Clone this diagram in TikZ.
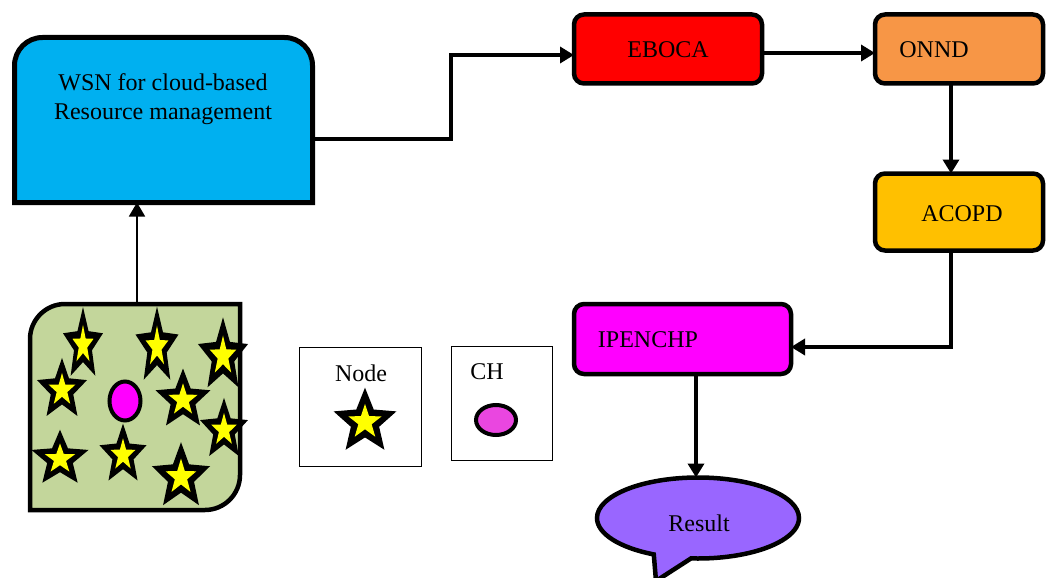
\documentclass[tikz,border=0pt]{standalone}
\usepackage{fontspec}
\setmainfont{Liberation Serif}
\usetikzlibrary{arrows.meta,calc,shapes.callouts,shapes.geometric}
\definecolor{wsnblue}{HTML}{00B0F0}
\definecolor{ebred}{HTML}{FF0000}
\definecolor{onorange}{HTML}{F79646}
\definecolor{acgold}{HTML}{FFC000}
\definecolor{ipmag}{HTML}{FF00FF}
\definecolor{respurple}{HTML}{9966FF}
\definecolor{fieldgreen}{HTML}{C3D69B}
\definecolor{staryellow}{HTML}{FFFF00}
\definecolor{legpink}{HTML}{EA46E0}
\tikzset{
  boxstyle/.style={draw=black, line width=4.5pt, rounded corners=10pt, inner sep=0pt, outer sep=0pt},
  legbox/.style={draw=black, line width=1pt, inner sep=0pt, outer sep=0pt},
  lbl/.style={inner sep=0pt, font=\fontsize{24}{28.5}\selectfont},
  arr/.style={line width=4.5pt, -{Triangle[length=14pt,width=16pt]}},
  thinarr/.style={line width=1.8pt, -{Triangle[length=14pt,width=16pt]}},
  starpic/.pic={
    \fill[black] (-90:1) -- (-54:0.45) -- (-18:1) -- (18:0.45) -- (54:1) -- (90:0.45) -- (126:1) -- (162:0.45) -- (198:1) -- (234:0.45) -- cycle;
    \fill[staryellow, scale=0.53] (-90:1) -- (-54:0.4) -- (-18:1) -- (18:0.4) -- (54:1) -- (90:0.4) -- (126:1) -- (162:0.4) -- (198:1) -- (234:0.4) -- cycle;
  }
}
\begin{document}
\begin{tikzpicture}[x=1pt,y=-1pt]
\useasboundingbox (0,0) rectangle (1047,578);

% WSN box (top corners rounded)
\node[minimum width=298pt, minimum height=165pt, inner sep=0pt, outer sep=0pt] (WSN) at (163.5,120) {};
\draw[line width=5pt, fill=wsnblue]
  (WSN.south west) -- ($(WSN.north west)+(0,28)$)
  .. controls ($(WSN.north west)+(0,12.5)$) and ($(WSN.north west)+(12.5,0)$) .. ($(WSN.north west)+(28,0)$)
  -- ($(WSN.north east)+(-28,0)$)
  .. controls ($(WSN.north east)+(-12.5,0)$) and ($(WSN.north east)+(0,12.5)$) .. ($(WSN.north east)+(0,28)$)
  -- (WSN.south east) -- cycle;
\node[lbl, align=center] (wsntext) at (163,99) {WSN for cloud-based\\Resource management};

% process boxes
\node[boxstyle, fill=ebred, minimum width=188pt, minimum height=69pt] (EBOCA) at (668,49) {};
\node[lbl] (ebocatext) at (668,50) {EBOCA};
\node[boxstyle, fill=onorange, minimum width=168pt, minimum height=69pt] (ONND) at (959,49) {};
\node[lbl] (onndtext) at (934,50) {ONND};
\node[boxstyle, fill=acgold, minimum width=168pt, minimum height=77pt] (ACOPD) at (959,212) {};
\node[lbl] (acopdtext) at (962,214) {ACOPD};
\node[boxstyle, fill=ipmag, minimum width=217pt, minimum height=70pt] (IPENCHP) at (682.5,339) {};
\node[lbl] (ipenchptext) at (648,340) {IPENCHP};

% Result callout
\node[ellipse callout, draw=black, line width=4.5pt, fill=respurple, minimum width=202pt, minimum height=81pt,
      inner sep=0pt, outer sep=0pt, callout absolute pointer={(656,581)}, callout pointer arc=22] (Result) at (698,518) {};
\node[lbl] (resulttext) at (699,523) {Result};

% field of sensors
\node[minimum width=210pt, minimum height=206pt, inner sep=0pt, outer sep=0pt] (field) at (135,407) {};
\draw[line width=4.5pt, fill=fieldgreen]
  ($(field.north west)+(0,35)$)
  .. controls ($(field.north west)+(0,15.7)$) and ($(field.north west)+(15.7,0)$) .. ($(field.north west)+(35,0)$)
  -- (field.north east) -- ($(field.south east)+(0,-35)$)
  .. controls ($(field.south east)+(0,-15.7)$) and ($(field.south east)+(-15.7,0)$) .. ($(field.south east)+(-35,0)$)
  -- (field.south west) -- cycle;
\node[ellipse, draw=black, line width=4pt, fill=ipmag, minimum width=31pt, minimum height=39pt, inner sep=0pt] (chfield) at (125,401) {};
\pic[xscale=21,yscale=38] at (83,345) {starpic};
\pic[xscale=22.6,yscale=40.4] at (157,347) {starpic};
\pic[xscale=26.3,yscale=38.7] at (223,356) {starpic};
\pic[xscale=26.3,yscale=32.1] at (62,390) {starpic};
\pic[xscale=28.9,yscale=31.5] at (183,400) {starpic};
\pic[xscale=25.2,yscale=32.1] at (224,430) {starpic};
\pic[xscale=30,yscale=29.3] at (60,459) {starpic};
\pic[xscale=24.7,yscale=31.5] at (123,455) {starpic};
\pic[xscale=30.5,yscale=34.8] at (181,477) {starpic};

% legend
\node[legbox, minimum width=122pt, minimum height=119pt] (legnode) at (360,406.5) {};
\node[lbl] (legnodetext) at (361,373) {Node};
\pic[xscale=33,yscale=34.3] at (365,422) {starpic};
\node[legbox, minimum width=101pt, minimum height=114pt] (legch) at (501.5,403) {};
\node[lbl] (legchtext) at (487,372) {CH};
\node[ellipse, draw=black, line width=4pt, fill=legpink, minimum width=40pt, minimum height=30pt, inner sep=0pt] (legchell) at (496,420) {};

% connectors
\draw[thinarr] (field.north -| 137,0) -- (WSN.south -| 137,0);
\draw[arr] ($(WSN.east)+(2.5,19)$) -- ++(136,0) |- ($(EBOCA.west)+(0,6)$);
\draw[arr] ($(EBOCA.east)+(0,4)$) -- ($(ONND.west)+(0,4)$);
\draw[arr] ($(ONND.south)+(-8,0)$) -- ($(ACOPD.north)+(-8,0)$);
\draw[arr] ($(ACOPD.south)+(-8,0)$) |- ($(IPENCHP.east)+(0,8)$);
\draw[arr] (IPENCHP.south -| 696,0) -- (Result.north -| 696,0);
\end{tikzpicture}
\end{document}
